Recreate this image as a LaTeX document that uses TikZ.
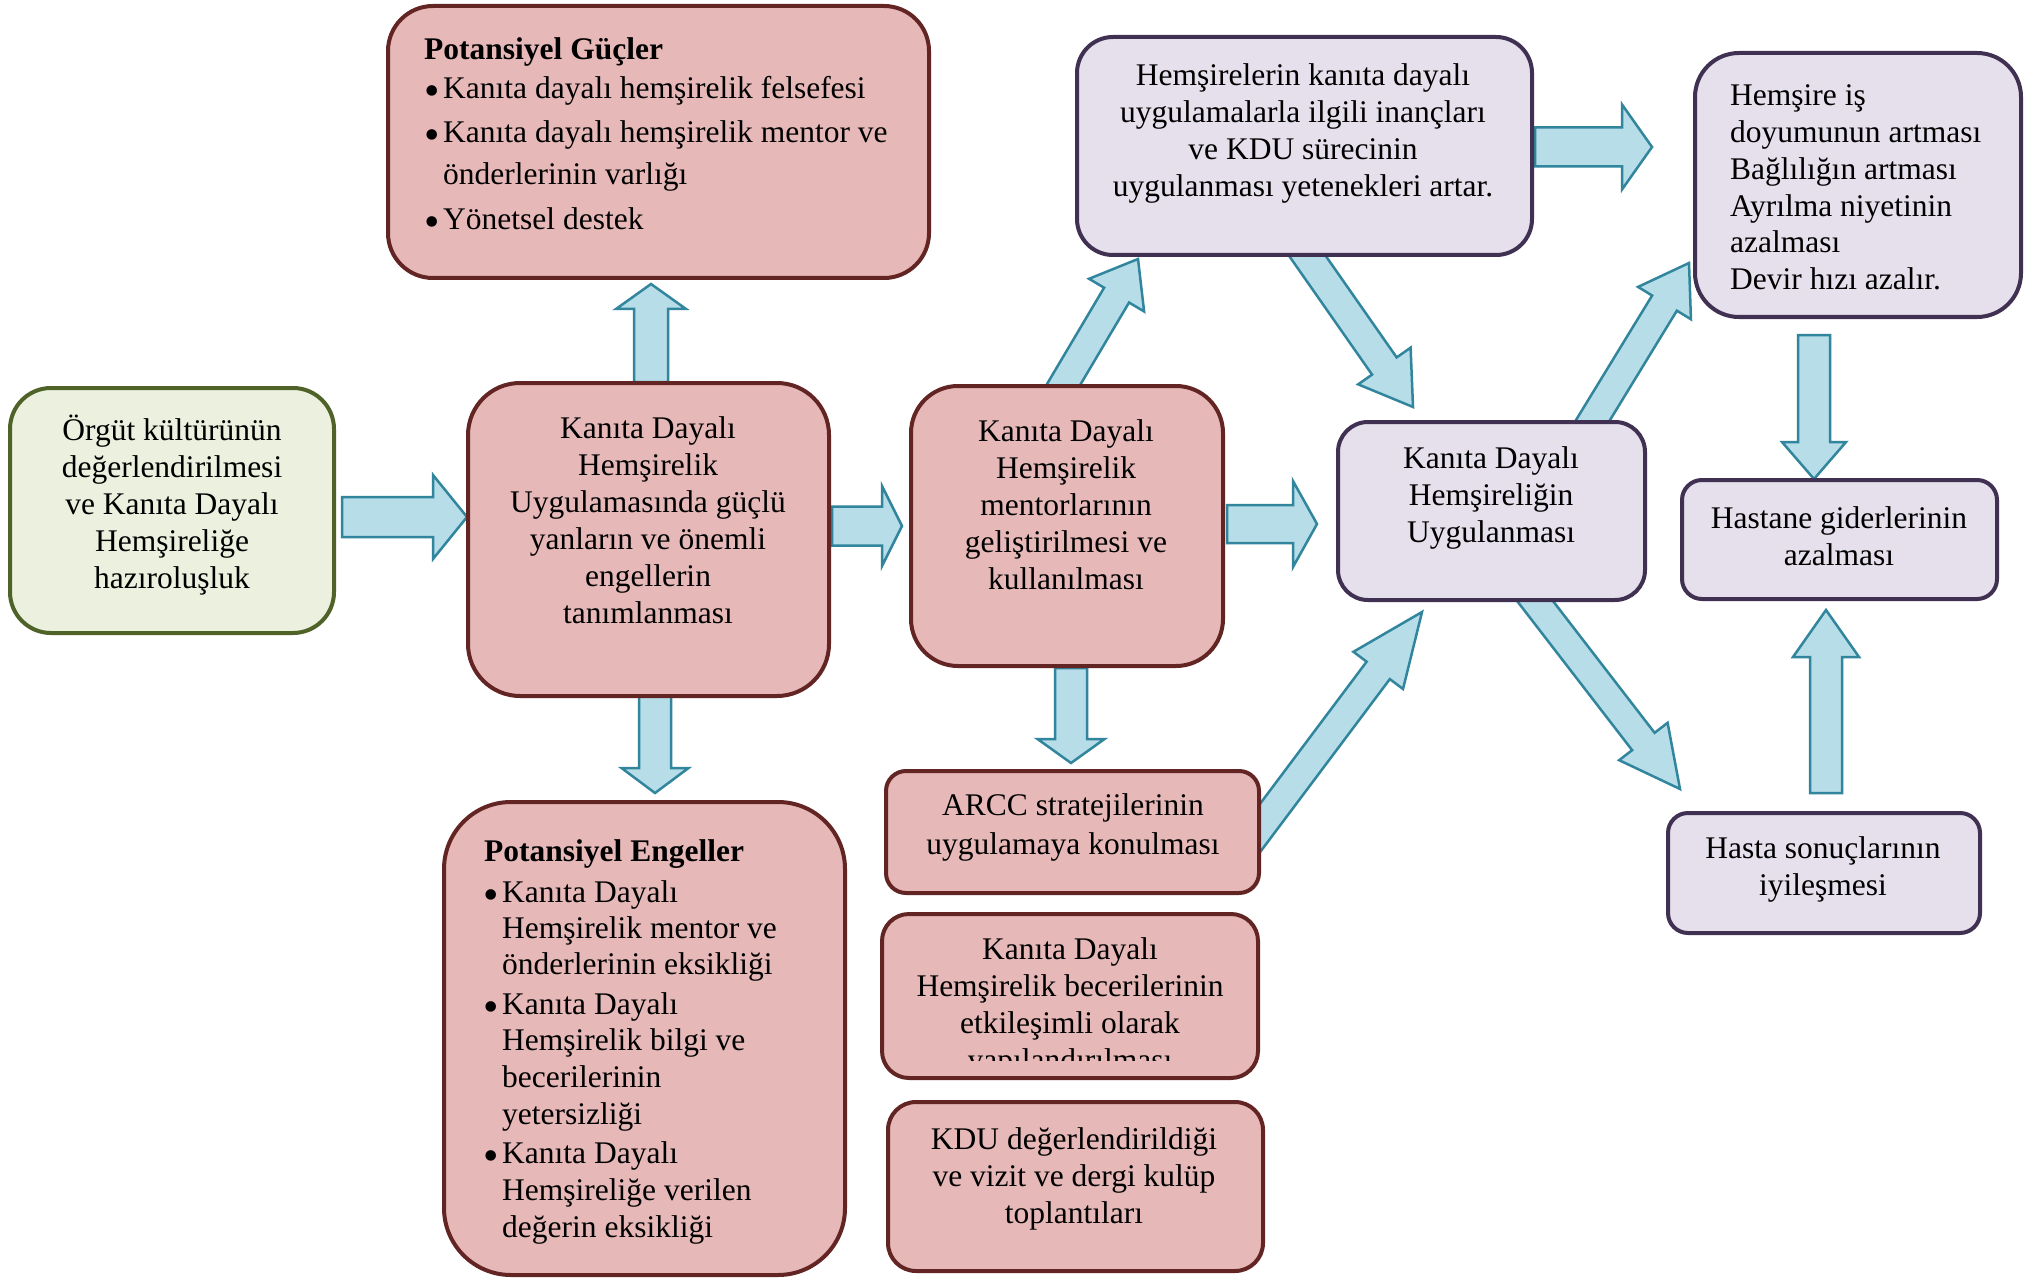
\documentclass[tikz,border=0pt]{standalone}
\usepackage{fontspec}
\setmainfont{Liberation Serif}
\usetikzlibrary{calc}
\definecolor{pinkF}{HTML}{E6B9B8}
\definecolor{pinkD}{HTML}{632523}
\definecolor{greenF}{HTML}{EBF1DE}
\definecolor{greenD}{HTML}{4F6228}
\definecolor{purF}{HTML}{E5E0EC}
\definecolor{purD}{HTML}{403152}
\definecolor{arrF}{HTML}{B7DEE8}
\definecolor{arrD}{HTML}{31859C}
\newcommand\bul{\llap{\raisebox{-7pt}{\fontsize{44}{44}\selectfont\textbullet}\hspace{3pt}}}
\newcommand\blockarr[5]{%
  \coordinate (bh) at ($(#2)!#5!(#1)$);
  \draw[barr] ($(#1)!#3!90:(#2)$) -- ($(bh)!#3!90:(#2)$) -- ($(bh)!#4!90:(#2)$) -- (#2)
    -- ($(bh)!#4!-90:(#2)$) -- ($(bh)!#3!-90:(#2)$) -- ($(#1)!#3!-90:(#2)$) -- cycle;}
\begin{document}
\begin{tikzpicture}[x=1pt,y=-1pt,
  barr/.style={fill=arrF, draw=arrD, line width=2.5pt, line join=miter},
  pbox/.style={rectangle, draw=pinkD, fill=pinkF, line width=4pt, inner sep=0pt},
  gbox/.style={rectangle, draw=greenD, fill=greenF, line width=4pt, inner sep=0pt},
  ubox/.style={rectangle, draw=purD, fill=purF, line width=4pt, inner sep=0pt},
  txt/.style={inner sep=0pt, align=center, font=\fontsize{31.5}{37}\selectfont},
  ltxt/.style={inner sep=0pt, anchor=base west, font=\fontsize{31.5}{37}\selectfont}]
\useasboundingbox (0,0) rectangle (2029,1281);
\fill[white] (0,0) rectangle (2029,1281);
% arrow end points
\coordinate (a1) at (342,517);   \coordinate (a2) at (467,517);
\coordinate (b1) at (651,382);   \coordinate (b2) at (651,284);
\coordinate (c1) at (655,696);   \coordinate (c2) at (655,793);
\coordinate (d1) at (832,526);   \coordinate (d2) at (902,526);
\coordinate (e1) at (1071,668);  \coordinate (e2) at (1071,763);
\coordinate (f1) at (1052,404);  \coordinate (f2) at (1138,259);
\coordinate (g1) at (1297,241);  \coordinate (g2) at (1413,407);
\coordinate (h1) at (1227,524);  \coordinate (h2) at (1317,524);
\coordinate (i1) at (1245,848);  \coordinate (i2) at (1422,612);
\coordinate (j1) at (1535,147);  \coordinate (j2) at (1652,147);
\coordinate (k1) at (1582,438);  \coordinate (k2) at (1689,263);
\coordinate (l1) at (1525,588);  \coordinate (l2) at (1680,789);
\coordinate (m1) at (1814,335);  \coordinate (m2) at (1814,479);
\coordinate (n1) at (1826,793);  \coordinate (n2) at (1826,610);
% arrows
\blockarr{a1}{a2}{20pt}{42pt}{34pt}
\blockarr{b1}{b2}{17pt}{35pt}{25pt}
\blockarr{c1}{c2}{16pt}{33.5pt}{25pt}
\blockarr{d1}{d2}{19.5pt}{40pt}{20pt}
\blockarr{e1}{e2}{16pt}{33.5pt}{24pt}
\blockarr{f1}{f2}{14.5pt}{32pt}{42pt}
\blockarr{g1}{g2}{15pt}{32pt}{50pt}
\blockarr{h1}{h2}{19pt}{43pt}{24pt}
\blockarr{i1}{i2}{14.5pt}{31pt}{73pt}
\blockarr{j1}{j2}{19.5pt}{42.5pt}{30pt}
\blockarr{k1}{k2}{14.5pt}{31pt}{47pt}
\blockarr{l1}{l2}{14.2pt}{30.6pt}{60pt}
\blockarr{m1}{m2}{16pt}{32pt}{37pt}
\blockarr{n1}{n2}{16pt}{33pt}{47pt}
% boxes
\node[gbox, minimum width=324pt, minimum height=245pt, rounded corners=41pt] (org) at (172,510.5) {};
\node[pbox, minimum width=361pt, minimum height=313pt, rounded corners=52pt] (cen) at (648.5,539.5) {};
\node[pbox, minimum width=541pt, minimum height=272pt, rounded corners=45pt] (guc) at (658.5,142) {};
\node[pbox, minimum width=401pt, minimum height=473pt, rounded corners=67pt] (eng) at (644.5,1038.5) {};
\node[pbox, minimum width=312pt, minimum height=280pt, rounded corners=47pt] (men) at (1067,526) {};
\node[pbox, minimum width=373pt, minimum height=122pt, rounded corners=20pt] (arcc) at (1072.5,832) {};
\node[pbox, minimum width=376pt, minimum height=164pt, rounded corners=27pt] (bec) at (1070,996) {};
\node[pbox, minimum width=375pt, minimum height=169pt, rounded corners=28pt] (kdu) at (1075.5,1186.5) {};
\node[ubox, minimum width=455pt, minimum height=218pt, rounded corners=36pt] (hem) at (1304.5,146) {};
\node[ubox, minimum width=307pt, minimum height=178pt, rounded corners=30pt] (kdh) at (1491.5,511) {};
\node[ubox, minimum width=326pt, minimum height=264pt, rounded corners=44pt] (his) at (1858,185) {};
\node[ubox, minimum width=315pt, minimum height=119pt, rounded corners=20pt] (hst) at (1839.5,539.5) {};
\node[ubox, minimum width=312pt, minimum height=120pt, rounded corners=20pt] (hsn) at (1824,873) {};
% centred texts
\node[txt] (orgT) at (172,505) {Örgüt kültürünün\\değerlendirilmesi\\ve Kanıta Dayalı\\Hemşireliğe\\hazıroluşluk};
\node[txt] (cenT) at (648,520) {Kanıta Dayalı\\Hemşirelik\\Uygulamasında güçlü\\yanların ve önemli\\engellerin\\tanımlanması};
\node[txt] (menT) at (1066,505) {Kanıta Dayalı\\Hemşirelik\\mentorlarının\\geliştirilmesi ve\\kullanılması};
\node[txt, font=\fontsize{31.5}{39}\selectfont] (arccT) at (1073,827) {ARCC stratejilerinin\\uygulamaya konulması};
\begin{scope}
\clip (882,914) rectangle (1258,1060);
\node[txt] (becT) at (1070,1007.5) {Kanıta Dayalı\\Hemşirelik becerilerinin\\etkileşimli olarak\\yapılandırılması};
\end{scope}
\node[txt] (kduT) at (1074,1179) {KDU değerlendirildiği\\ve vizit ve dergi kulüp\\toplantıları};
\node[txt] (hemT) at (1303,133.5) {Hemşirelerin kanıta dayalı\\uygulamalarla ilgili inançları\\ve KDU sürecinin\\uygulanması yetenekleri artar.};
\node[txt] (kdhT) at (1491,497.5) {Kanıta Dayalı\\Hemşireliğin\\Uygulanması};
\node[txt] (hstT) at (1839,536.5) {Hastane giderlerinin\\azalması};
\node[txt] (hsnT) at (1823,869) {Hasta sonuçlarının\\iyileşmesi};
% left aligned lists
\node[ltxt] (g0) at (424,60) {\textbf{Potansiyel Güçler}};
\node[ltxt] (g1) at (443,99) {\bul Kanıta dayalı hemşirelik felsefesi};
\node[ltxt] (g2) at (443,143) {\bul Kanıta dayalı hemşirelik mentor ve};
\node[ltxt] (g3) at (443,185) {önderlerinin varlığı};
\node[ltxt] (g4) at (443,230) {\bul Yönetsel destek};
\node[ltxt] (e0) at (484,861) {\textbf{Potansiyel Engeller}};
\node[ltxt] (e1) at (502,902) {\bul Kanıta Dayalı};
\node[ltxt] (e2) at (502,938) {Hemşirelik mentor ve};
\node[ltxt] (e3) at (502,974) {önderlerinin eksikliği};
\node[ltxt] (e4) at (502,1014) {\bul Kanıta Dayalı};
\node[ltxt] (e5) at (502,1050) {Hemşirelik bilgi ve};
\node[ltxt] (e6) at (502,1087) {becerilerinin};
\node[ltxt] (e7) at (502,1124) {yetersizliği};
\node[ltxt] (e8) at (502,1163) {\bul Kanıta Dayalı};
\node[ltxt] (e9) at (502,1200) {Hemşireliğe verilen};
\node[ltxt] (e10) at (502,1237) {değerin eksikliği};
\node[ltxt] (h1t) at (1730,106) {Hemşire iş};
\node[ltxt] (h2t) at (1730,143) {doyumunun artması};
\node[ltxt] (h3t) at (1730,180) {Bağlılığın artması};
\node[ltxt] (h4t) at (1730,217) {Ayrılma niyetinin};
\node[ltxt] (h5t) at (1730,253) {azalması};
\node[ltxt] (h6t) at (1730,290) {Devir hızı azalır.};
\end{tikzpicture}
\end{document}
